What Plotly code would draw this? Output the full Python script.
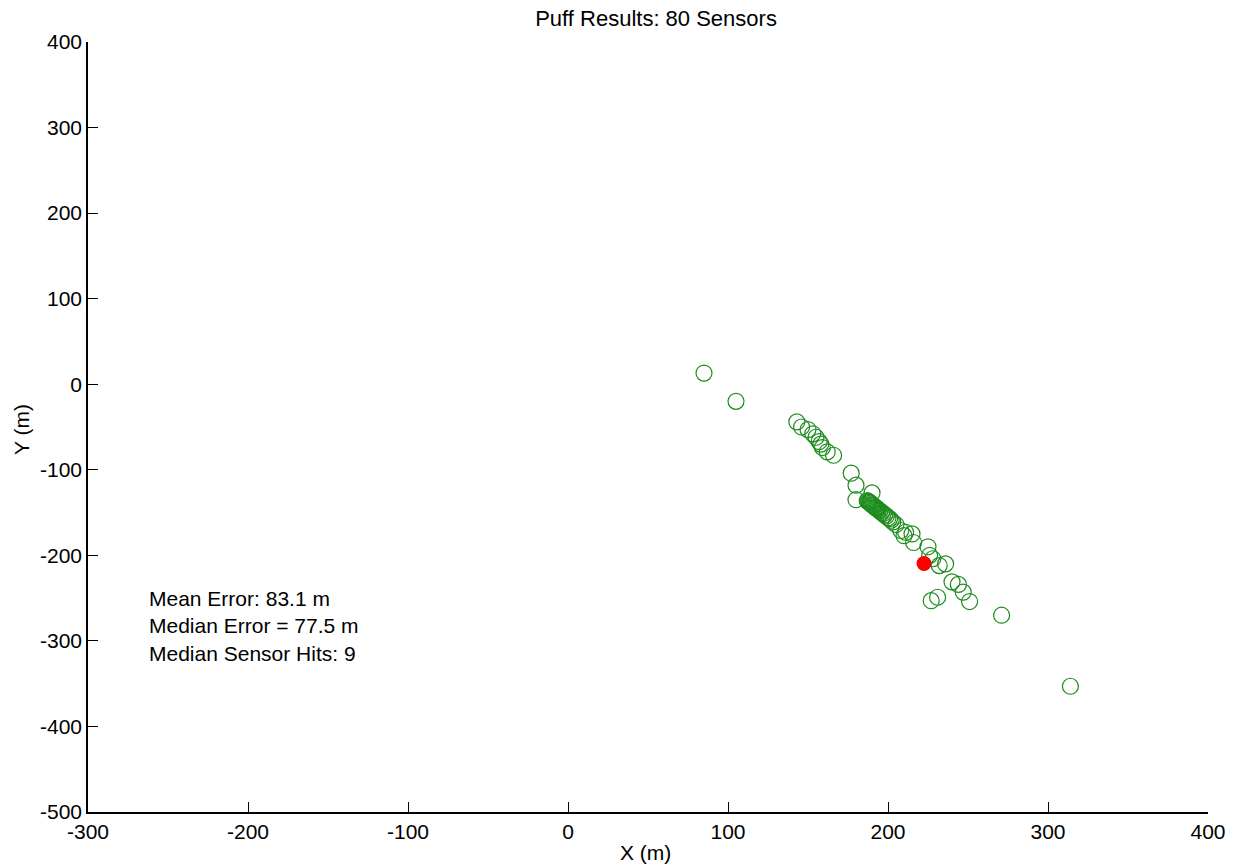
import plotly.graph_objects as go

# Estimated source locations (green open circles)
est_x = [85, 105,
         143, 146, 150, 153, 155, 157, 158, 159, 162, 166,
         177, 180, 180, 190,
         187, 187.5, 188, 188.5, 189, 189.5, 190, 190.5, 191, 191.5, 192, 192.5, 193, 193.5, 194, 195, 196,
         197, 198, 199, 200, 201, 202, 203, 205,
         208, 211, 215, 210, 216, 225, 226, 228, 232, 236,
         240, 244, 247, 251, 227, 231, 271, 314]
est_y = [13, -20,
         -44, -50, -53, -58, -62, -67, -70, -74, -79, -83,
         -104, -118, -135, -127,
         -136, -137, -137.5, -138, -139, -140, -141, -141.5, -142, -143, -144, -144.5, -145, -146, -147, -148, -150,
         -151, -153, -154, -156, -157, -159, -161, -164,
         -171, -173, -175, -177, -185, -190, -200, -204, -212, -210,
         -231, -234, -243, -254, -253, -249, -270, -353]

# True source (red filled)
true_x = [222.5]
true_y = [-209.6]

x_ticks = [-300, -200, -100, 0, 100, 200, 300, 400]
y_ticks = [-500, -400, -300, -200, -100, 0, 100, 200, 300, 400]

stats_text = "Mean Error: 83.1 m<br>Median Error = 77.5 m<br>Median Sensor Hits: 9"

fig = go.Figure()
fig.add_trace(go.Scatter(
    x=est_x, y=est_y, mode="markers",
    marker=dict(symbol="circle-open", size=16, color="rgb(30,140,30)", line=dict(width=1.2)),
    showlegend=False))
fig.add_trace(go.Scatter(
    x=true_x, y=true_y, mode="markers",
    marker=dict(symbol="circle", size=15, color="rgb(255,0,0)"),
    showlegend=False))

fam = "Liberation Sans, Arial, sans-serif"
font = dict(family=fam, size=21, color="black")
tickfont = dict(family=fam, size=21, color="black")
axis_common = dict(showgrid=False, zeroline=False, showline=True, linecolor="black", linewidth=1.5,
                   ticks="inside", ticklen=10, tickwidth=1, tickcolor="black",
                   tickfont=tickfont, mirror=False)

fig.update_layout(
    width=1239, height=867,
    margin=dict(l=88, r=31, t=42, b=55),
    paper_bgcolor="white", plot_bgcolor="white",
    font=font,
    title=dict(text="Puff Results: 80 Sensors", x=0.5295, xanchor="center",
               y=1 - 18 / 867, yanchor="middle", font=dict(family=fam, size=22, color="black")),
    xaxis=dict(range=[-300, 400], tickvals=x_ticks, ticktext=[str(v) for v in x_ticks], **axis_common),
    yaxis=dict(range=[-500, 400], tickvals=y_ticks, ticktext=[str(v) for v in y_ticks], **axis_common),
    annotations=[
        dict(text="X (m)", xref="paper", yref="paper", x=(645 - 88) / 1120, y=-40 / 770,
             xanchor="center", yanchor="middle", showarrow=False, font=font),
        dict(text="Y (m)", xref="paper", yref="paper", x=(22 - 88) / 1120, y=(812 - 430) / 770,
             xanchor="center", yanchor="middle", showarrow=False, textangle=-90, font=font),
        dict(text=stats_text, xref="paper", yref="paper", x=(147 - 88) / 1120, y=(812 - 585) / 770,
             xanchor="left", yanchor="top", align="left", showarrow=False, font=font),
    ],
)

fig.write_html("out.html")
